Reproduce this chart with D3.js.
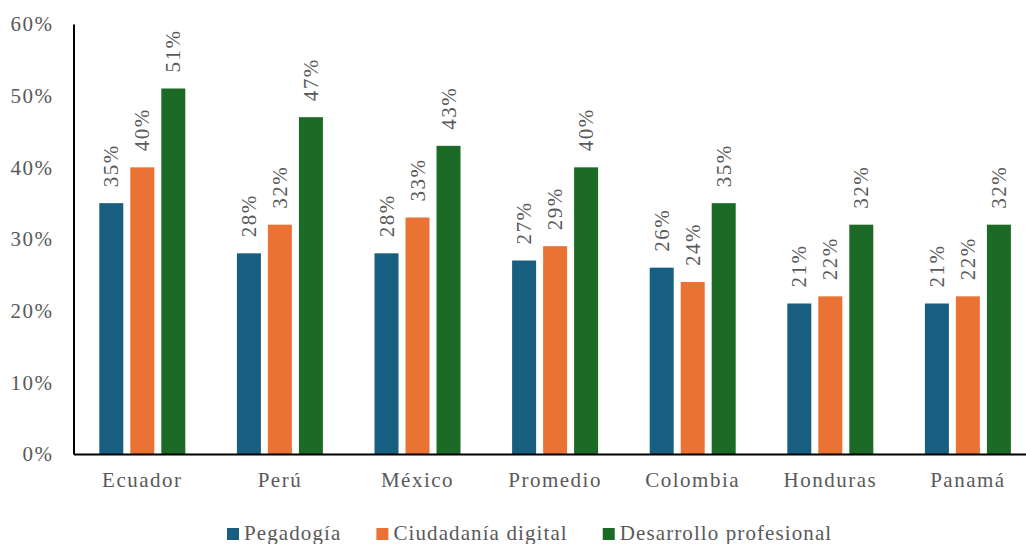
<!DOCTYPE html>
<html>
<head>
<meta charset="utf-8">
<script src="https://cdn.jsdelivr.net/npm/d3@7"></script>
<style>
  body { margin: 0; background: #fff; }
</style>
</head>
<body>
<div id="wrapper"></div>
<script>
// data
const categories = ["Ecuador", "Perú", "México", "Promedio", "Colombia", "Honduras", "Panamá"]
const seriesNames = ["Pegadogía", "Ciudadanía digital", "Desarrollo profesional"]
const pedagogia = [0.35, 0.28, 0.28, 0.27, 0.26, 0.21, 0.21]
const ciudadania = [0.40, 0.32, 0.33, 0.29, 0.24, 0.22, 0.22]
const desarrollo = [0.51, 0.47, 0.43, 0.40, 0.35, 0.32, 0.32]
const yTicks = [0, 0.1, 0.2, 0.3, 0.4, 0.5, 0.6]
const colors = ["#175e80", "#ea7334", "#1b6a26"]

const FONT = "'Liberation Serif', serif"

function styleText(sel, spacing = "1.5px") {
  return sel
    .attr("fill", "#595959")
    .style("font-family", FONT)
    .style("font-size", "21px")
    .style("letter-spacing", spacing)
}

function drawChart() {
  const seriesValues = [pedagogia, ciudadania, desarrollo]

  // dimensions
  const dimensions = {
    width: 1026,
    height: 544,
    plotLeft: 73.5,
    plotRight: 1036.7,
    plotTop: 24,
    plotBottom: 454,
  }

  const svg = d3.select("#wrapper")
    .append("svg")
      .attr("width", dimensions.width)
      .attr("height", dimensions.height)
      .style("font-family", FONT)

  // scales
  const xScale = d3.scaleBand()
    .domain(categories)
    .range([dimensions.plotLeft, dimensions.plotRight])
    .paddingInner(0)
    .paddingOuter(0)

  const innerScale = d3.scaleBand()
    .domain(seriesNames)
    .range([-43, 43])
    .paddingInner(7 / 31)
    .paddingOuter(0)

  const yScale = d3.scaleLinear()
    .domain([0, 0.6])
    .range([dimensions.plotBottom, dimensions.plotTop])

  const pct = d3.format(".0%")

  // bars
  const groups = svg.append("g")
    .selectAll("g")
    .data(categories)
    .join("g")
      .attr("transform", d => `translate(${xScale(d) + xScale.bandwidth() / 2},0)`)

  const barData = (c, i) => seriesNames.map((s, j) => ({ series: s, j, value: seriesValues[j][i] }))

  groups.selectAll("rect")
    .data(barData)
    .join("rect")
      .attr("x", d => innerScale(d.series))
      .attr("width", innerScale.bandwidth())
      .attr("y", d => yScale(d.value))
      .attr("height", d => yScale(0) - yScale(d.value))
      .attr("fill", d => colors[d.j])

  // value labels, rotated
  groups.selectAll("text.value")
    .data(barData)
    .join("text")
      .attr("class", "value")
      .attr("transform", d => `translate(${innerScale(d.series) + innerScale.bandwidth() / 2},${yScale(d.value) - 16}) rotate(-90)`)
      .attr("dominant-baseline", "central")
      .call(styleText)
      .text(d => pct(d.value))

  // y axis
  const yAxisGenerator = d3.axisLeft(yScale)
    .tickValues(yTicks)
    .tickSize(0)
    .tickPadding(20)
    .tickFormat(pct)

  const yAxis = svg.append("g")
    .attr("transform", `translate(${dimensions.plotLeft},0)`)
    .call(yAxisGenerator)
    .attr("font-family", null)
  yAxis.select(".domain").attr("stroke", "#000").attr("stroke-width", 2)
  yAxis.selectAll("text").call(styleText)

  // x axis
  const xAxisGenerator = d3.axisBottom(xScale)
    .tickSize(0)
    .tickPadding(18)

  const xAxis = svg.append("g")
    .attr("transform", `translate(0,${dimensions.plotBottom})`)
    .call(xAxisGenerator)
    .attr("font-family", null)
  xAxis.select(".domain").attr("stroke", "#000").attr("stroke-width", 2)
  xAxis.selectAll("text").call(styleText)

  // legend
  const legend = svg.append("g")
    .attr("transform", "translate(227,540)")
  let cursor = 0
  seriesNames.forEach((name, j) => {
    const item = legend.append("g").attr("transform", `translate(${cursor},0)`)
    item.append("rect")
      .attr("x", 0)
      .attr("y", -12)
      .attr("width", 12)
      .attr("height", 12)
      .attr("fill", colors[j])
    const label = item.append("text")
      .attr("x", 17)
      .attr("y", 0)
      .call(styleText, "1.1px")
      .text(name)
    cursor += 17 + label.node().getComputedTextLength() + 35
  })
}
drawChart()
</script>
</body>
</html>
